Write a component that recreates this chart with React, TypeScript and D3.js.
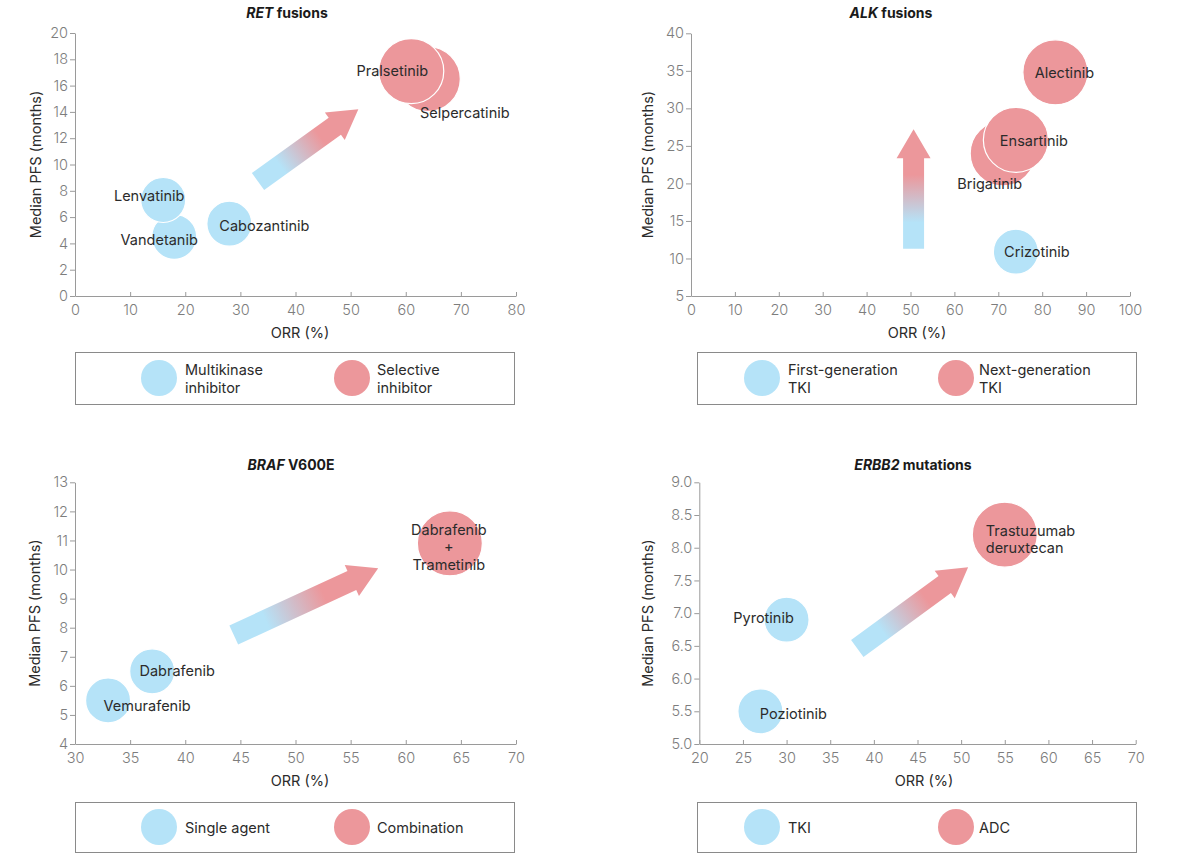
import React, { useEffect, useRef } from "react";
import * as d3 from "d3";

// ---------------- DATA ----------------
// RET fusions
const retDrugs = ["Vandetanib", "Lenvatinib", "Cabozantinib", "Selpercatinib", "Pralsetinib"];
const retORR = [18, 16, 28, 64, 61];
const retPFS = [4.5, 7.3, 5.5, 16.5, 17.1];
const retClass = [0, 0, 0, 1, 1];
const retLegend = ["Multikinase\ninhibitor", "Selective\ninhibitor"];
const retXTicks = [0, 10, 20, 30, 40, 50, 60, 70, 80];
const retYTicks = [0, 2, 4, 6, 8, 10, 12, 14, 16, 18, 20];
const retTitle = ["RET", " fusions"];

// ALK fusions
const alkDrugs = ["Crizotinib", "Brigatinib", "Ensartinib", "Alectinib"];
const alkORR = [74, 71, 74, 83];
const alkPFS = [10.9, 24.0, 25.8, 34.8];
const alkClass = [0, 1, 1, 1];
const alkLegend = ["First-generation\nTKI", "Next-generation\nTKI"];
const alkXTicks = [0, 10, 20, 30, 40, 50, 60, 70, 80, 90, 100];
const alkYTicks = [5, 10, 15, 20, 25, 30, 35, 40];
const alkTitle = ["ALK", " fusions"];

// BRAF V600E
const brafDrugs = ["Vemurafenib", "Dabrafenib", "Dabrafenib\n+\nTrametinib"];
const brafORR = [33, 37, 64];
const brafPFS = [5.5, 6.5, 10.9];
const brafClass = [0, 0, 1];
const brafLegend = ["Single agent", "Combination"];
const brafXTicks = [30, 35, 40, 45, 50, 55, 60, 65, 70];
const brafYTicks = [4, 5, 6, 7, 8, 9, 10, 11, 12, 13];
const brafTitle = ["BRAF", " V600E"];

// ERBB2 mutations
const erbb2Drugs = ["Poziotinib", "Pyrotinib", "Trastuzumab\nderuxtecan"];
const erbb2ORR = [27, 30, 55];
const erbb2PFS = [5.5, 6.9, 8.2];
const erbb2Class = [0, 0, 1];
const erbb2Legend = ["TKI", "ADC"];
const erbb2XTicks = [20, 25, 30, 35, 40, 45, 50, 55, 60, 65, 70];
const erbb2YTicks = [5.0, 5.5, 6.0, 6.5, 7.0, 7.5, 8.0, 8.5, 9.0];
const erbb2Title = ["ERBB2", " mutations"];

// ---------------- STYLE / LAYOUT ----------------
const BLUE = "#b5e3f8";
const RED = "#ec979b";
const CLASS_COLORS = [BLUE, RED];
const CLASS_RADIUS = [22.5, 32.5];
const FONT = "Inter, 'Noto Sans', 'DejaVu Sans', sans-serif";
const TEXT = "#2b2b2b";
const TICK_TEXT = "#7d7d7d";
const AXIS = "#9a9a9a";
const LABEL_SIZE = 14.5;

type Off = { dx: number; dy: number; anchor?: string };

const panels = [
  {
    id: "ret",
    drugs: retDrugs, orr: retORR, pfs: retPFS, cls: retClass, legend: retLegend,
    xTicks: retXTicks, yTicks: retYTicks, title: retTitle, yFmt: d3.format("d"),
    x0: 75, x1: 516, yTop: 33, yBot: 296,
    titleX: 287, titleY: 12, yLabelX: 35, xLabelX: 300,
    box: { x: 75, y: 352, w: 439, h: 52 }, items: [{ cx: 159, tx: 185 }, { cx: 352, tx: 377 }],
    arrow: { from: [33.2, 8.7], to: [51.4, 14.2] },
    labels: {
      Vandetanib: { dx: -15, dy: 2 }, Lenvatinib: { dx: -14, dy: -5 }, Cabozantinib: { dx: 35, dy: 1 },
      Selpercatinib: { dx: 37, dy: 33 }, Pralsetinib: { dx: -19, dy: -1 },
    } as Record<string, Off>,
  },
  {
    id: "alk",
    drugs: alkDrugs, orr: alkORR, pfs: alkPFS, cls: alkClass, legend: alkLegend,
    xTicks: alkXTicks, yTicks: alkYTicks, title: alkTitle, yFmt: d3.format("d"),
    x0: 691, x1: 1130, yTop: 33.3, yBot: 296,
    titleX: 891, titleY: 12, yLabelX: 647, xLabelX: 917,
    box: { x: 697, y: 352, w: 439, h: 52 }, items: [{ cx: 762, tx: 788 }, { cx: 956, tx: 979 }],
    arrow: { from: [50.7, 11.3], to: [50.7, 27.2] },
    labels: {
      Crizotinib: { dx: 21, dy: -1 }, Brigatinib: { dx: -13, dy: 30 }, Ensartinib: { dx: 18, dy: 0 },
      Alectinib: { dx: 9, dy: 0 },
    } as Record<string, Off>,
  },
  {
    id: "braf",
    drugs: brafDrugs, orr: brafORR, pfs: brafPFS, cls: brafClass, legend: brafLegend,
    xTicks: brafXTicks, yTicks: brafYTicks, title: brafTitle, yFmt: d3.format("d"),
    x0: 75, x1: 516, yTop: 482.3, yBot: 744,
    titleX: 291, titleY: 464, yLabelX: 34, xLabelX: 300,
    box: { x: 75, y: 802, w: 439, h: 50 }, items: [{ cx: 159, tx: 185 }, { cx: 352, tx: 377 }],
    arrow: { from: [44.4, 7.75], to: [57.5, 10.04] },
    labels: {
      Vemurafenib: { dx: 39, dy: 5 }, Dabrafenib: { dx: 25, dy: -1 },
      "Dabrafenib\n+\nTrametinib": { dx: -1, dy: 3 },
    } as Record<string, Off>,
  },
  {
    id: "erbb2",
    drugs: erbb2Drugs, orr: erbb2ORR, pfs: erbb2PFS, cls: erbb2Class, legend: erbb2Legend,
    xTicks: erbb2XTicks, yTicks: erbb2YTicks, title: erbb2Title, yFmt: d3.format(".1f"),
    x0: 699.3, x1: 1135.7, yTop: 482.3, yBot: 744,
    titleX: 913, titleY: 464, yLabelX: 647, xLabelX: 924,
    box: { x: 697, y: 802, w: 439, h: 50 }, items: [{ cx: 762, tx: 788 }, { cx: 956, tx: 979 }],
    arrow: { from: [38.1, 6.46], to: [50.8, 7.7] },
    labels: {
      Poziotinib: { dx: 33, dy: 2 }, Pyrotinib: { dx: -23, dy: -3 },
      "Trastuzumab\nderuxtecan": { dx: -19, dy: 4, anchor: "start" },
    } as Record<string, Off>,
  },
];

const LINE_H = 17.5;

function drawPanel(svg: d3.Selection<SVGSVGElement, unknown, null, undefined>, p: any) {
  const g = svg.append("g");
  const x = d3.scaleLinear().domain([p.xTicks[0], p.xTicks[p.xTicks.length - 1]]).range([p.x0, p.x1]);
  const y = d3.scaleLinear().domain([p.yTicks[0], p.yTicks[p.yTicks.length - 1]]).range([p.yBot, p.yTop]);

  // axes
  const xa = g.append("g").attr("transform", `translate(0,${p.yBot})`)
    .call(d3.axisBottom(x).tickValues(p.xTicks).tickSizeInner(-4).tickSizeOuter(0).tickPadding(9).tickFormat(d3.format("d")) as any);
  const ya = g.append("g").attr("transform", `translate(${p.x0},0)`)
    .call(d3.axisLeft(y).tickValues(p.yTicks).tickSizeInner(5).tickSizeOuter(0).tickPadding(2).tickFormat(p.yFmt) as any);
  [xa, ya].forEach((a) => {
    a.select(".domain").attr("stroke", AXIS).attr("stroke-width", 1);
    a.selectAll(".tick line").attr("stroke", AXIS);
    a.selectAll(".tick text").attr("fill", TICK_TEXT).attr("font-family", FONT)
      .attr("font-size", 14.5).attr("font-weight", 300);
  });

  // axis titles
  g.append("text").attr("x", p.xLabelX).attr("y", p.yBot + 36).attr("text-anchor", "middle")
    .attr("dominant-baseline", "central").attr("font-family", FONT).attr("font-size", 14.5)
    .attr("fill", TEXT).text("ORR (%)");
  g.append("text").attr("transform", `translate(${p.yLabelX},${(p.yTop + p.yBot) / 2}) rotate(-90)`)
    .attr("text-anchor", "middle").attr("dominant-baseline", "central").attr("font-family", FONT)
    .attr("font-size", 14.5).attr("fill", TEXT).text("Median PFS (months)");

  // panel title
  const t = g.append("text").attr("x", p.titleX).attr("y", p.titleY).attr("text-anchor", "middle")
    .attr("dominant-baseline", "central").attr("font-family", FONT).attr("font-size", 14)
    .attr("font-weight", 700).attr("fill", "#1a1a1a");
  t.append("tspan").attr("font-style", "italic").text(p.title[0]);
  t.append("tspan").text(p.title[1]);

  // gradient arrow
  const sx = x(p.arrow.from[0]), sy = y(p.arrow.from[1]);
  const tx = x(p.arrow.to[0]), ty = y(p.arrow.to[1]);
  const len = Math.hypot(tx - sx, ty - sy);
  const ux = (tx - sx) / len, uy = (ty - sy) / len;
  const nx = -uy, ny = ux;
  const w = 21, hw = 34, hl = 29;
  const bx = tx - ux * hl, by = ty - uy * hl;
  const pts: [number, number][] = [
    [sx + nx * w / 2, sy + ny * w / 2],
    [bx + nx * w / 2, by + ny * w / 2],
    [bx + nx * hw / 2, by + ny * hw / 2],
    [tx, ty],
    [bx - nx * hw / 2, by - ny * hw / 2],
    [bx - nx * w / 2, by - ny * w / 2],
    [sx - nx * w / 2, sy - ny * w / 2],
  ];
  const gid = `grad-${p.id}`;
  const grad = svg.select("defs").append("linearGradient").attr("id", gid)
    .attr("gradientUnits", "userSpaceOnUse")
    .attr("x1", sx).attr("y1", sy).attr("x2", tx).attr("y2", ty);
  grad.append("stop").attr("offset", 0).attr("stop-color", BLUE);
  grad.append("stop").attr("offset", 0.22).attr("stop-color", BLUE);
  grad.append("stop").attr("offset", 0.62).attr("stop-color", RED);
  grad.append("stop").attr("offset", 1).attr("stop-color", RED);
  g.append("path").attr("d", d3.line()(pts) + "Z").attr("fill", `url(#${gid})`);

  // bubbles
  const idx = p.drugs.map((_: string, i: number) => i);
  g.selectAll("circle.bubble").data(idx).enter().append("circle")
    .attr("class", "bubble")
    .attr("cx", (i: number) => x(p.orr[i]))
    .attr("cy", (i: number) => y(p.pfs[i]))
    .attr("r", (i: number) => CLASS_RADIUS[p.cls[i]])
    .attr("fill", (i: number) => CLASS_COLORS[p.cls[i]])
    .attr("stroke", "#ffffff").attr("stroke-width", 1.2);

  // labels
  idx.forEach((i: number) => {
    const name = p.drugs[i];
    const off: Off = p.labels[name] || { dx: 0, dy: 0 };
    const lines = name.split("\n");
    const cx = x(p.orr[i]) + off.dx;
    const cy = y(p.pfs[i]) + off.dy;
    const txt = g.append("text").attr("font-family", FONT).attr("font-size", LABEL_SIZE).attr("fill", TEXT)
      .attr("text-anchor", off.anchor || "middle").attr("dominant-baseline", "central");
    lines.forEach((ln: string, k: number) => {
      txt.append("tspan").attr("x", cx)
        .attr("y", cy + (k - (lines.length - 1) / 2) * LINE_H).text(ln);
    });
  });

  // legend
  const b = p.box;
  g.append("rect").attr("x", b.x + 0.5).attr("y", b.y + 0.5).attr("width", b.w).attr("height", b.h)
    .attr("fill", "#fff").attr("stroke", "#8a8a8a").attr("stroke-width", 1);
  const my = b.y + b.h / 2;
  p.items.forEach((it: any, k: number) => {
    g.append("circle").attr("cx", it.cx).attr("cy", my).attr("r", 18).attr("fill", CLASS_COLORS[k]);
    const lines = p.legend[k].split("\n");
    const txt = g.append("text").attr("font-family", FONT).attr("font-size", LABEL_SIZE).attr("fill", TEXT)
      .attr("dominant-baseline", "central");
    lines.forEach((ln: string, j: number) => {
      txt.append("tspan").attr("x", it.tx).attr("y", my + (j - (lines.length - 1) / 2) * 17.5).text(ln);
    });
  });
}

export default function App() {
  const ref = useRef<SVGSVGElement>(null);
  useEffect(() => {
    const svg = d3.select(ref.current as SVGSVGElement);
    svg.selectAll("*").remove();
    svg.append("defs");
    panels.forEach((p) => drawPanel(svg, p));
  }, []);
  return (
    <svg
      ref={ref}
      width={1200}
      height={853}
      style={{ position: "absolute", left: 0, top: 0, display: "block", background: "#fff" }}
    />
  );
}
